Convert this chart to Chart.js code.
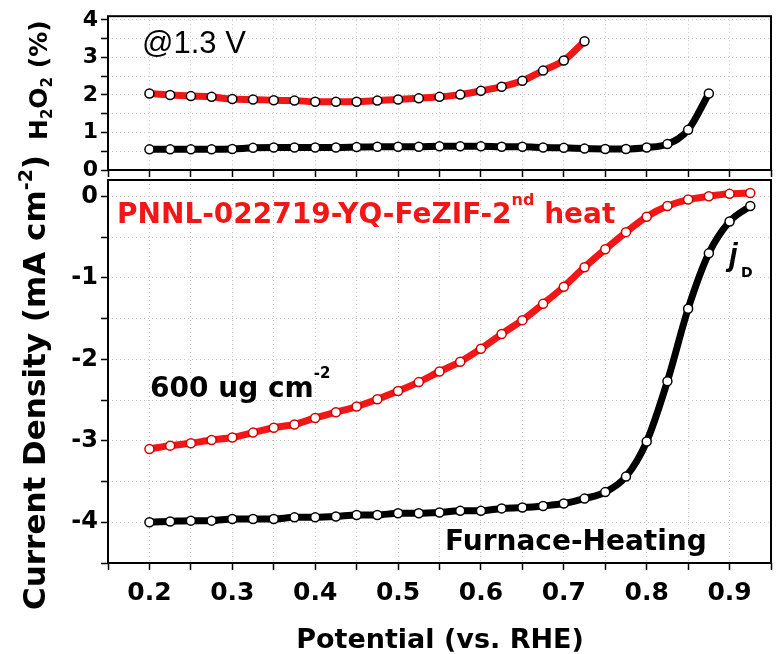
<!DOCTYPE html>
<html>
<head>
<meta charset="utf-8">
<script src="https://cdn.jsdelivr.net/npm/chart.js@4.4.1/dist/chart.umd.min.js"></script>
<style>
  html, body { margin: 0; padding: 0; background: #fff; }
  #wrap { position: relative; width: 779px; height: 654px; }
  #wrap canvas { position: absolute; left: 0; top: 0; }
  #topChart { pointer-events: none; }
</style>
</head>
<body>
<div id="wrap">
  <canvas id="bottomChart" width="779" height="654"></canvas>
  <canvas id="topChart" width="779" height="654"></canvas>
</div>
<script>
// Top panel: H2O2 yield (%) vs potential
const potentialH2O2Red = [0.2, 0.225, 0.25, 0.275, 0.3, 0.325, 0.35, 0.375, 0.4, 0.425, 0.45,
    0.475, 0.5, 0.525, 0.55, 0.575, 0.6, 0.625, 0.65, 0.675, 0.7, 0.725];
const h2o2Red = [2.04, 2.00, 1.97, 1.95, 1.89, 1.88, 1.86, 1.85, 1.82, 1.82, 1.82,
    1.85, 1.88, 1.91, 1.95, 2.01, 2.11, 2.22, 2.38, 2.65, 2.92, 3.43];

const potentialH2O2Black = [0.2, 0.225, 0.25, 0.275, 0.3, 0.325, 0.35, 0.375, 0.4, 0.425, 0.45,
    0.475, 0.5, 0.525, 0.55, 0.575, 0.6, 0.625, 0.65, 0.675, 0.7, 0.725, 0.75, 0.775,
    0.8, 0.825, 0.85, 0.875];
const h2o2Black = [0.55, 0.55, 0.55, 0.55, 0.56, 0.59, 0.60, 0.60, 0.60, 0.60, 0.61,
    0.62, 0.62, 0.62, 0.63, 0.63, 0.63, 0.62, 0.62, 0.60, 0.59, 0.57, 0.56, 0.56,
    0.60, 0.69, 1.07, 2.04];

// Bottom panel: current density (mA cm-2) vs potential
const potentialDisk = [0.2, 0.225, 0.25, 0.275, 0.3, 0.325, 0.35, 0.375, 0.4, 0.425, 0.45,
    0.475, 0.5, 0.525, 0.55, 0.575, 0.6, 0.625, 0.65, 0.675, 0.7, 0.725, 0.75, 0.775,
    0.8, 0.825, 0.85, 0.875, 0.9, 0.925];
const currentRed = [-3.10, -3.06, -3.03, -2.99, -2.96, -2.90, -2.84, -2.80, -2.72, -2.65, -2.58,
    -2.49, -2.39, -2.28, -2.15, -2.03, -1.87, -1.69, -1.52, -1.32, -1.11, -0.87, -0.65, -0.44,
    -0.25, -0.12, -0.04, 0.00, 0.03, 0.04];
const currentBlack = [-4.00, -3.99, -3.98, -3.98, -3.96, -3.96, -3.96, -3.94, -3.94, -3.93, -3.91,
    -3.91, -3.89, -3.89, -3.88, -3.86, -3.86, -3.83, -3.82, -3.80, -3.77, -3.71, -3.63, -3.44,
    -3.01, -2.27, -1.38, -0.70, -0.31, -0.12];

// Tick labels (minor ticks sit halfway between them)
const xTickLabels = ['0.2', '0.3', '0.4', '0.5', '0.6', '0.7', '0.8', '0.9'];
const yTickLabelsTop = ['0', '1', '2', '3', '4'];
const yTickLabelsBottom = ['-4', '-3', '-2', '-1', '0'];

const BOLD = '"DejaVu Sans", sans-serif';
const RED = '#f21616';

function toPoints(xs, ys) {
    return xs.map((x, i) => ({ x: x, y: ys[i] }));
}

// major label values plus the midpoints between and just outside them
function withMinor(labels) {
    const v = labels.map(Number);
    const half = (v[1] - v[0]) / 2;
    const out = [v[0] - half];
    v.forEach(t => { out.push(t, t + half); });
    return out.map(t => Math.round(t * 1000) / 1000);
}

function drawRuns(ctx, x, y, runs) {
    let cx = x;
    runs.forEach(r => {
        ctx.font = r.font;
        ctx.fillText(r.text, cx, y + (r.dy || 0));
        cx += ctx.measureText(r.text).width;
    });
}

function series(points, color, ring) {
    return {
        data: points,
        borderColor: color,
        borderWidth: 7,
        pointRadius: 4.5,
        pointBackgroundColor: '#fff',
        pointBorderColor: ring,
        pointBorderWidth: 1.5,
        cubicInterpolationMode: 'monotone'
    };
}

function makeLabeler(labels) {
    return function (value) {
        const s = String(Math.round(value * 100) / 100);
        return labels.includes(s) ? s : '';
    };
}

function axes(opts) {
    const grid = {
        color: '#c6c6c6',
        lineWidth: 1,
        tickColor: '#000',
        tickWidth: 1.5,
        tickLength: 7
    };
    const xTicks = withMinor(xTickLabels);
    const yTicks = withMinor(opts.yLabels).filter(v => v >= opts.yMin && v <= opts.yMax);
    return {
        x: {
            type: 'linear',
            min: 0.15,
            max: 0.95,
            ticks: {
                autoSkip: false,
                maxRotation: 0,
                minRotation: 0,
                color: '#000',
                padding: 8,
                font: { family: BOLD, size: 25, weight: 'bold' },
                callback: opts.showX ? makeLabeler(xTickLabels) : () => ''
            },
            grid: grid,
            border: { display: false, dash: [1, 3] },
            afterBuildTicks: s => { s.ticks = xTicks.map(v => ({ value: v })); },
            afterFit: s => { s.height = opts.xHeight; }
        },
        y: {
            min: opts.yMin,
            max: opts.yMax,
            ticks: {
                autoSkip: false,
                color: '#000',
                padding: 3,
                font: { family: BOLD, size: opts.yFont, weight: 'bold' },
                callback: makeLabeler(opts.yLabels)
            },
            grid: grid,
            border: { display: false, dash: [1, 3] },
            afterBuildTicks: s => { s.ticks = yTicks.map(v => ({ value: v })); },
            afterFit: s => { s.width = 108; }
        }
    };
}

const framePlugin = {
    id: 'frame',
    afterDraw(chart) {
        const { ctx, chartArea: a } = chart;
        ctx.save();
        ctx.strokeStyle = '#000';
        ctx.lineWidth = 2;
        ctx.strokeRect(a.left, a.top, a.right - a.left, a.bottom - a.top);
        ctx.restore();
    }
};

const bottomText = {
    id: 'bottomText',
    afterDraw(chart) {
        const ctx = chart.ctx;
        ctx.save();
        ctx.textBaseline = 'alphabetic';
        ctx.textAlign = 'left';

        ctx.fillStyle = RED;
        drawRuns(ctx, 117, 223, [
            { text: 'PNNL-022719-YQ-FeZIF-2', font: 'bold 28px ' + BOLD },
            { text: 'nd', font: 'bold 16px ' + BOLD, dy: -18 },
            { text: ' heat', font: 'bold 28px ' + BOLD }
        ]);

        ctx.fillStyle = '#000';
        drawRuns(ctx, 150, 397, [
            { text: '600 ug cm', font: 'bold 28px ' + BOLD },
            { text: '-2', font: 'bold 15px ' + BOLD, dy: -19 }
        ]);

        ctx.font = 'bold 28px ' + BOLD;
        ctx.fillText('Furnace-Heating', 445, 550);

        drawRuns(ctx, 729, 265, [
            { text: 'j', font: 'italic bold 31px "Liberation Sans", sans-serif' }
        ]);
        drawRuns(ctx, 741, 277, [
            { text: 'D', font: 'bold 14px ' + BOLD }
        ]);

        // x axis title
        ctx.font = 'bold 27px ' + BOLD;
        ctx.textAlign = 'center';
        ctx.fillText('Potential (vs. RHE)', 440, 648);
        ctx.textAlign = 'left';

        // y axis titles, reading bottom to top
        ctx.save();
        ctx.translate(45, 610);
        ctx.rotate(-Math.PI / 2);
        drawRuns(ctx, 0, 0, [
            { text: 'Current Density (mA cm', font: 'bold 31px ' + BOLD },
            { text: '-2', font: 'bold 19px ' + BOLD, dy: -13 },
            { text: ')', font: 'bold 31px ' + BOLD }
        ]);
        ctx.restore();

        ctx.save();
        ctx.translate(47, 140);
        ctx.rotate(-Math.PI / 2);
        drawRuns(ctx, 0, 0, [
            { text: 'H', font: 'bold 25px ' + BOLD },
            { text: '2', font: 'bold 15px ' + BOLD, dy: 5 },
            { text: 'O', font: 'bold 25px ' + BOLD },
            { text: '2', font: 'bold 15px ' + BOLD, dy: 5 },
            { text: ' (%)', font: 'bold 25px ' + BOLD }
        ]);
        ctx.restore();

        ctx.restore();
    }
};

const topText = {
    id: 'topText',
    afterDraw(chart) {
        const ctx = chart.ctx;
        ctx.save();
        ctx.fillStyle = '#000';
        ctx.textBaseline = 'alphabetic';
        ctx.font = '31px "Liberation Sans", sans-serif';
        ctx.fillText('@1.3 V', 142, 53);
        ctx.restore();
    }
};

const common = {
    responsive: false,
    animation: false,
    events: [],
    plugins: { legend: { display: false }, tooltip: { enabled: false } }
};

new Chart(document.getElementById('bottomChart'), {
    type: 'line',
    data: {
        datasets: [
            series(toPoints(potentialDisk, currentBlack), '#000', '#000'),
            series(toPoints(potentialDisk, currentRed), RED, '#d40000')
        ]
    },
    options: Object.assign({}, common, {
        layout: { padding: { top: 180, right: 6, left: 0, bottom: 0 } },
        scales: axes({
            xHeight: 91,
            showX: true,
            yMin: -4.5,
            yMax: 0.2,
            yFont: 24,
            yLabels: yTickLabelsBottom
        })
    }),
    plugins: [framePlugin, bottomText]
});

new Chart(document.getElementById('topChart'), {
    type: 'line',
    data: {
        datasets: [
            series(toPoints(potentialH2O2Black, h2o2Black), '#000', '#000'),
            series(toPoints(potentialH2O2Red, h2o2Red), RED, '#000')
        ]
    },
    options: Object.assign({}, common, {
        layout: { padding: { top: 15, right: 6, left: 0, bottom: 0 } },
        scales: axes({
            xHeight: 654 - 170,
            showX: false,
            yMin: 0,
            yMax: 4.1,
            yFont: 22,
            yLabels: yTickLabelsTop
        })
    }),
    plugins: [framePlugin, topText]
});
</script>
</body>
</html>
